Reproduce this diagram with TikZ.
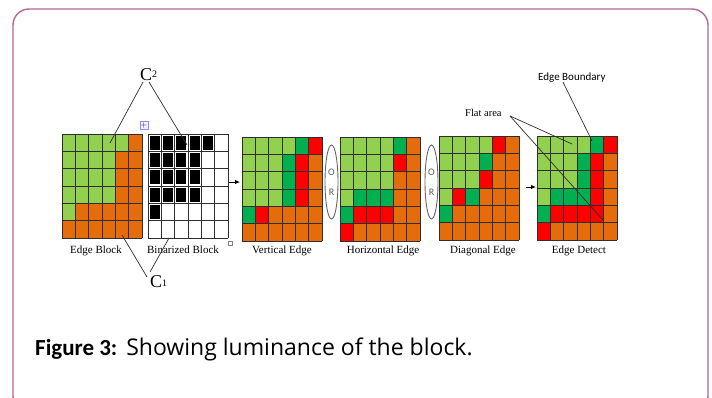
\documentclass[tikz,border=0pt]{standalone}
\usepackage{fontspec}
\setmainfont{Liberation Serif}
\newfontfamily\capfont{Carlito}
\newfontfamily\figfont{Open Sans}
\usetikzlibrary{arrows.meta,shapes.geometric}
\definecolor{colg}{HTML}{92D050}
\definecolor{cold}{HTML}{00B050}
\definecolor{colr}{HTML}{FF0000}
\definecolor{colo}{HTML}{E46C0A}
\definecolor{colk}{HTML}{000000}
\definecolor{colw}{HTML}{FFFFFF}
\definecolor{framecol}{HTML}{B0679A}
\definecolor{linecol}{HTML}{2E2E2E}
\tikzset{
  gridline/.style={draw=linecol, line width=0.9pt},
  pointer/.style={draw=linecol, line width=0.7pt},
  lbl/.style={font=\fontsize{11}{12}\selectfont, anchor=base, inner sep=0pt},
  orell/.style={draw=gray!80!black, line width=0.9pt, ellipse, minimum width=13pt, minimum height=74pt, inner sep=0pt},
  ortext/.style={font=\capfont\fontsize{10}{10}\selectfont, text=gray!70!black, inner sep=0pt},
  flow/.style={draw=black, line width=0.9pt, -{Latex[length=5pt,width=4.5pt]}},
}
\newcommand\mygrid[3]{%
  \foreach \rowspec [count=\r from 0] in {#3} {
    \foreach \c [count=\k from 0] in \rowspec {
      \fill[fill=col\c] ({#1+\k*80/6},{#2+\r*104/6}) rectangle ++(80/6,104/6);
    }
  }
  \foreach \i in {0,...,6} {
    \draw[gridline] ({#1+\i*80/6},#2) -- ++(0,104);
    \draw[gridline] (#1,{#2+\i*104/6}) -- ++(80,0);
  }
}
\newcommand\mybingrid[3]{%
  \fill[white] (#1,#2) rectangle ++(80,104);
  \foreach \i in {0,...,6} {
    \draw[gridline] ({#1+\i*80/6},#2) -- ++(0,104);
    \draw[gridline] (#1,{#2+\i*104/6}) -- ++(80,0);
  }
  \foreach \rowspec [count=\r from 0] in {#3} {
    \foreach \c [count=\k from 0] in \rowspec {
      \fill[fill=col\c] ({#1+\k*80/6+1.8},{#2+\r*104/6+1.8}) rectangle ++({80/6-3.6},{104/6-3.6});
    }
  }
}
\begin{document}
\begin{tikzpicture}[x=1pt,y=-1pt]
\useasboundingbox (0,0) rectangle (712,397);
\begin{scope}
\clip (0,0) rectangle (712,397);
\draw[framecol, line width=1.4pt, rounded corners=16pt] (13,9) rectangle (708,412);
\end{scope}

% grids
\mygrid{62}{134}{{g,g,g,g,g,o},{g,g,g,g,o,o},{g,g,g,g,o,o},{g,g,g,g,o,o},{g,o,o,o,o,o},{o,o,o,o,o,o}}
\mybingrid{148}{134}{{k,k,k,k,k,w},{k,k,k,k,w,w},{k,k,k,k,w,w},{k,k,k,k,w,w},{k,w,w,w,w,w},{w,w,w,w,w,w}}
\mygrid{242}{137}{{g,g,g,g,d,r},{g,g,g,d,r,o},{g,g,g,d,r,o},{g,g,g,d,r,o},{d,r,o,o,o,o},{o,o,o,o,o,o}}
\mygrid{340}{137}{{g,g,g,g,d,o},{g,g,g,g,r,o},{g,g,g,g,o,o},{g,d,d,d,o,o},{d,r,r,r,o,o},{r,o,o,o,o,o}}
\mygrid{439}{136}{{g,g,g,g,r,o},{g,g,g,d,o,o},{g,g,g,r,o,o},{g,r,d,o,o,o},{d,o,o,o,o,o},{o,o,o,o,o,o}}
\mygrid{537}{136}{{g,g,g,g,d,r},{g,g,g,d,r,o},{g,g,g,d,r,o},{g,d,d,d,r,o},{d,r,r,r,r,o},{r,o,o,o,o,o}}

% word artifacts
\node[draw=blue!45, fill=blue!5, minimum size=8pt, inner sep=0pt, line width=0.5pt,
      font=\sffamily\fontsize{8}{8}\selectfont, text=blue!70!black] (mv) at (144,125) {+};
\node[draw=gray, fill=white, minimum size=4pt, inner sep=0pt, line width=0.4pt] (hd) at (230,243) {};

% labels
\node[lbl] (l1) at (96,253) {Edge Block};
\node[lbl] (l2) at (183,253) {Binarized Block};
\node[lbl] (l3) at (282,253) {Vertical Edge};
\node[lbl] (l4) at (383,253) {Horizontal Edge};
\node[lbl] (l5) at (483,253) {Diagonal Edge};
\node[lbl] (l6) at (579,253) {Edge Detect};

% OR ellipses
\node[orell] (or1) at (331.5,182) {};
\node[ortext] (o1) at (331.5,172) {O};
\node[ortext] (r1) at (331.5,192) {R};
\node[orell] (or2) at (431.5,182) {};
\node[ortext] (o2) at (431.5,172) {O};
\node[ortext] (r2) at (431.5,192) {R};

% flow arrows
\coordinate (a1s) at (229,182);
\coordinate (a1e) at (240,182);
\coordinate (a2s) at (526,187);
\coordinate (a2e) at (536,187);
\draw[flow] (a1s) -- (a1e);
\draw[flow] (a2s) -- (a2e);

% C2 callout
\node[inner sep=0pt, anchor=base west, font=\fontsize{18}{18}\selectfont] (c2) at (140,80) {C\raisebox{0.25ex}{\fontsize{10}{10}\selectfont 2}};
\coordinate (c2a) at (143,82);
\coordinate (c2b) at (149,82);
\coordinate (c2l) at (110,143);
\coordinate (c2r) at (187,145);
\draw[pointer] (c2a) -- (c2l);
\draw[pointer] (c2b) -- (c2r);

% C1 callout
\node[inner sep=0pt, anchor=base west, font=\fontsize{18}{18}\selectfont] (c1) at (150,287) {C\raisebox{0.1ex}{\fontsize{10}{10}\selectfont 1}};
\coordinate (c1a) at (147,277);
\coordinate (c1b) at (150,272);
\coordinate (c1l) at (122,235);
\coordinate (c1r) at (169,238);
\draw[pointer] (c1a) -- (c1l);
\draw[pointer] (c1b) -- (c1r);

% Flat area
\node[lbl, anchor=base west, font=\fontsize{10.5}{12}\selectfont] (flat) at (465,116) {Flat area};
\coordinate (fa) at (510,116);
\coordinate (fb) at (572,144);
\coordinate (fc) at (603,220);
\draw[pointer] (fa) -- (fb);
\draw[pointer] (fa) -- (fc);

% Edge Boundary
\node[inner sep=0pt, anchor=base west, font=\capfont\fontsize{11}{12}\selectfont] (eb) at (538,80) {Edge Boundary};
\coordinate (eba) at (563,82);
\coordinate (ebb) at (592,141);
\draw[pointer] (eba) -- (ebb);

% caption
\node[inner sep=0pt, anchor=base west, font=\figfont\fontsize{23}{26}\selectfont] (cap) at (35,355) {{\capfont\bfseries Figure 3:}\hspace{1pt} Showing luminance of the block.};
\end{tikzpicture}
\end{document}
